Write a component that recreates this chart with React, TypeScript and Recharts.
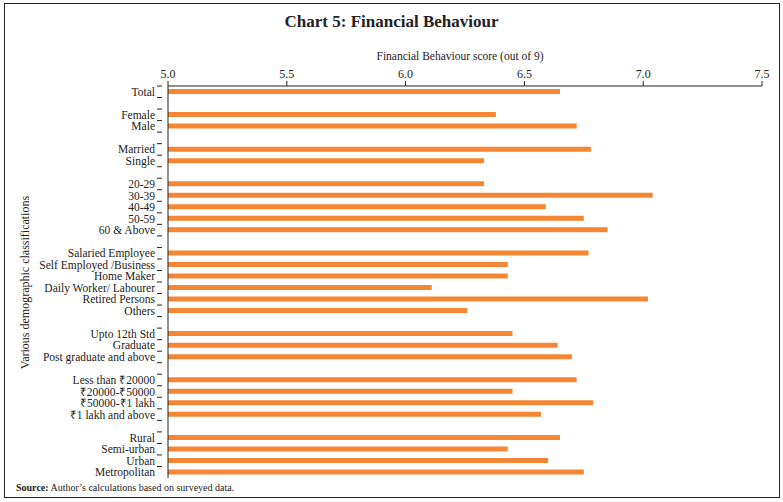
import React from "react";
import { Bar, BarChart, XAxis, YAxis } from "recharts";

// blank entries are the spacer rows between groups
const categories = [
  "Total",
  "",
  "Female",
  "Male",
  "",
  "Married",
  "Single",
  "",
  "20-29",
  "30-39",
  "40-49",
  "50-59",
  "60 & Above",
  "",
  "Salaried Employee",
  "Self Employed /Business",
  "Home Maker",
  "Daily Worker/ Labourer",
  "Retired Persons",
  "Others",
  "",
  "Upto 12th Std",
  "Graduate",
  "Post graduate and above",
  "",
  "Less than ₹20000",
  "₹20000-₹50000",
  "₹50000-₹1 lakh",
  "₹1 lakh and above",
  "",
  "Rural",
  "Semi-urban",
  "Urban",
  "Metropolitan",
];

const scores: (number | null)[] = [
  6.65,
  null,
  6.38,
  6.72,
  null,
  6.78,
  6.33,
  null,
  6.33,
  7.04,
  6.59,
  6.75,
  6.85,
  null,
  6.77,
  6.43,
  6.43,
  6.11,
  7.02,
  6.26,
  null,
  6.45,
  6.64,
  6.7,
  null,
  6.72,
  6.45,
  6.79,
  6.57,
  null,
  6.65,
  6.43,
  6.6,
  6.75,
];

const xTicks = [5.0, 5.5, 6.0, 6.5, 7.0, 7.5];

const data = categories.map((label, i) => ({
  key: label === "" ? "gap" + i : label,
  label,
  score: scores[i],
}));

const FONT = "'Liberation Serif', serif";
const ROW = (477.6 - 86.3) / categories.length;

function YTick(props: any) {
  const { x, y, payload } = props;
  const item = data.find((d) => d.key === payload.value);
  return (
    <g>
      <line x1={x + 2} x2={x - 3} y1={y - ROW / 2} y2={y - ROW / 2} stroke="#222" />
      {item && item.label !== "" && (
        <text
          x={x - 5}
          y={y}
          dy={4}
          textAnchor="end"
          fontSize={11.5}
          fontFamily={FONT}
          fill="#222"
        >
          {item.label}
        </text>
      )}
    </g>
  );
}

export default function App() {
  return (
    <div
      style={{
        position: "absolute",
        left: 0,
        top: 0,
        width: 783,
        height: 502,
        background: "#fff",
        fontFamily: FONT,
        color: "#222",
      }}
    >
      <div
        style={{
          position: "absolute",
          left: 4,
          top: 3,
          width: 774,
          height: 493,
          border: "1px solid #222",
        }}
      />
      <div
        style={{
          position: "absolute",
          left: 0,
          width: 783,
          top: 12,
          textAlign: "center",
          fontSize: 17,
          fontWeight: "bold",
        }}
      >
        Chart 5: Financial Behaviour
      </div>
      <div
        style={{
          position: "absolute",
          left: 360,
          width: 200,
          top: 50,
          textAlign: "center",
          fontSize: 11.5,
        }}
      >
        Financial Behaviour score (out of 9)
      </div>
      <div
        style={{
          position: "absolute",
          left: 25 - 100,
          top: 283 - 8,
          width: 200,
          textAlign: "center",
          fontSize: 12,
          transform: "rotate(-90deg)",
        }}
      >
        Various demographic classifications
      </div>
      <div style={{ position: "absolute", left: 16, top: 482, fontSize: 10 }}>
        <b>Source:</b> Author’s calculations based on surveyed data.
      </div>
      <div style={{ position: "absolute", left: 0, top: 0 }}>
        <BarChart
          width={783}
          height={502}
          data={data}
          layout="vertical"
          margin={{ top: 0, right: 21, bottom: 24, left: 0 }}
        >
          <XAxis
            type="number"
            orientation="top"
            domain={[5, 7.5]}
            ticks={xTicks}
            tickFormatter={(v: number) => v.toFixed(1)}
            height={86}
            tickSize={5}
            tickMargin={3}
            stroke="#222"
            tick={{ fill: "#222", fontSize: 12, fontFamily: FONT }}
            interval={0}
          />
          <YAxis
            type="category"
            dataKey="key"
            width={168}
            interval={0}
            tickLine={false}
            stroke="#222"
            tick={<YTick />}
          />
          <Bar
            dataKey="score"
            fill="#F58634"
            barSize={5}
            isAnimationActive={false}
          />
        </BarChart>
      </div>
    </div>
  );
}
